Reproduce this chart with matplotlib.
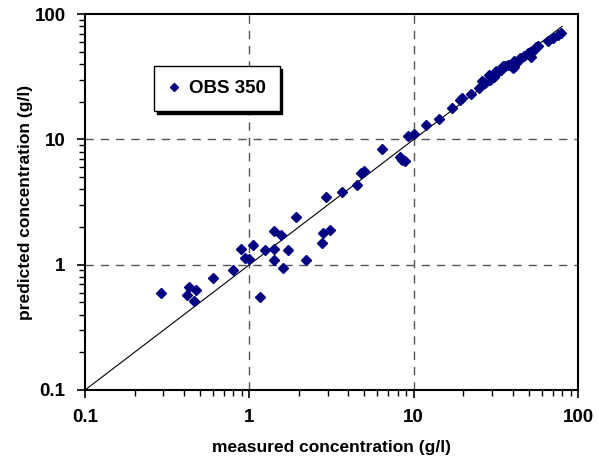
import matplotlib.pyplot as plt
from matplotlib.ticker import LogLocator, NullFormatter

plt.rcParams['font.family'] = ['Liberation Sans', 'DejaVu Sans']
plt.rcParams['font.weight'] = 'bold'

# measured vs predicted concentration (g/l)
measured = [0.29, 0.43, 0.47, 0.42, 0.46, 0.60, 0.80, 0.89, 0.94, 0.99, 1.05,
            1.16, 1.25, 1.41, 1.41, 1.41, 1.55, 1.60, 1.71, 1.92, 2.20, 2.78,
            2.81, 3.09, 2.91, 3.68, 4.54, 4.76, 4.95, 6.40, 8.2, 8.5, 8.8,
            9.2, 10.1, 11.9, 14.3, 17.1, 19.0, 19.8, 22.2,
            24.9, 26.2, 27.0, 28.8, 29.0, 30.6, 31.6, 32.1, 34.1, 34.8, 35.8,
            37.3, 38.4, 40.0, 40.6, 41.0, 42.2, 44.0, 44.6, 47.2, 49.4, 50.8,
            51.8, 53.0, 55.8, 56.9, 65.5, 70.3, 75.4, 78.9]
predicted = [0.60, 0.67, 0.63, 0.57, 0.51, 0.79, 0.91, 1.33, 1.14, 1.11, 1.43,
             0.55, 1.31, 1.87, 1.33, 1.10, 1.74, 0.95, 1.31, 2.39, 1.10, 1.48,
             1.78, 1.89, 3.49, 3.83, 4.33, 5.42, 5.55, 8.34, 7.2, 6.9, 6.7,
             10.6, 11.1, 13.0, 14.5, 17.9, 20.6, 21.3, 22.9,
             25.6, 29.1, 28.0, 32.8, 29.8, 31.7, 34.9, 33.7, 35.8, 38.3, 38.5,
             39.5, 39.3, 37.1, 37.6, 42.0, 41.0, 43.3, 44.4, 46.0, 48.9, 50.1,
             45.2, 50.5, 54.3, 55.3, 60.7, 64.4, 67.7, 70.6]
line_x = [0.1, 80]

fig = plt.figure(figsize=(5.99, 4.68), dpi=100)
ax = fig.add_axes([0.142, 0.1667, 0.823, 0.803])

ax.plot(line_x, line_x, color='black', lw=0.8, zorder=2)
ax.plot(measured, predicted, 'D', color='#000080', ms=5.2, mec='#000080',
        label='OBS 350', zorder=3)

ax.set_xscale('log')
ax.set_yscale('log')
ax.set_xlim(0.1, 100)
ax.set_ylim(0.1, 100)

ticks = [0.1, 1, 10, 100]
labels = ['0.1', '1', '10', '100']
ax.set_xticks(ticks)
ax.set_xticklabels(labels)
ax.set_yticks(ticks)
ax.set_yticklabels(labels)
for axis in (ax.xaxis, ax.yaxis):
    axis.set_minor_locator(LogLocator(base=10, subs=range(2, 10)))
    axis.set_minor_formatter(NullFormatter())

ax.tick_params(which='major', length=6, width=1.2, labelsize=13.5, pad=8, direction='out')
ax.tick_params(which='minor', length=4, width=1.0, direction='out')

for v in [1, 10]:
    ax.axvline(v, color='#555555', lw=1, ls=(0, (6, 5)), zorder=1)
    ax.axhline(v, color='#555555', lw=1, ls=(0, (6, 5)), zorder=1)

for s in ax.spines.values():
    s.set_linewidth(1.5)

ax.set_xlabel('measured concentration (g/l)', fontsize=12.5, fontweight='bold', labelpad=10)
ax.set_ylabel('predicted concentration (g/l)', fontsize=12.5, fontweight='bold', labelpad=1)

leg = ax.legend(loc='upper left', bbox_to_anchor=(0.14, 0.862), borderaxespad=0,
                fontsize=13.5, frameon=True, fancybox=False,
                shadow={'color': 'black', 'alpha': 1, 'ox': 2, 'oy': -2},
                edgecolor='black', handlelength=0.6, handletextpad=0.5,
                borderpad=0.75, markerscale=0.8)
leg.get_frame().set_linewidth(1.0)

fig.savefig('out.png', dpi=100)
